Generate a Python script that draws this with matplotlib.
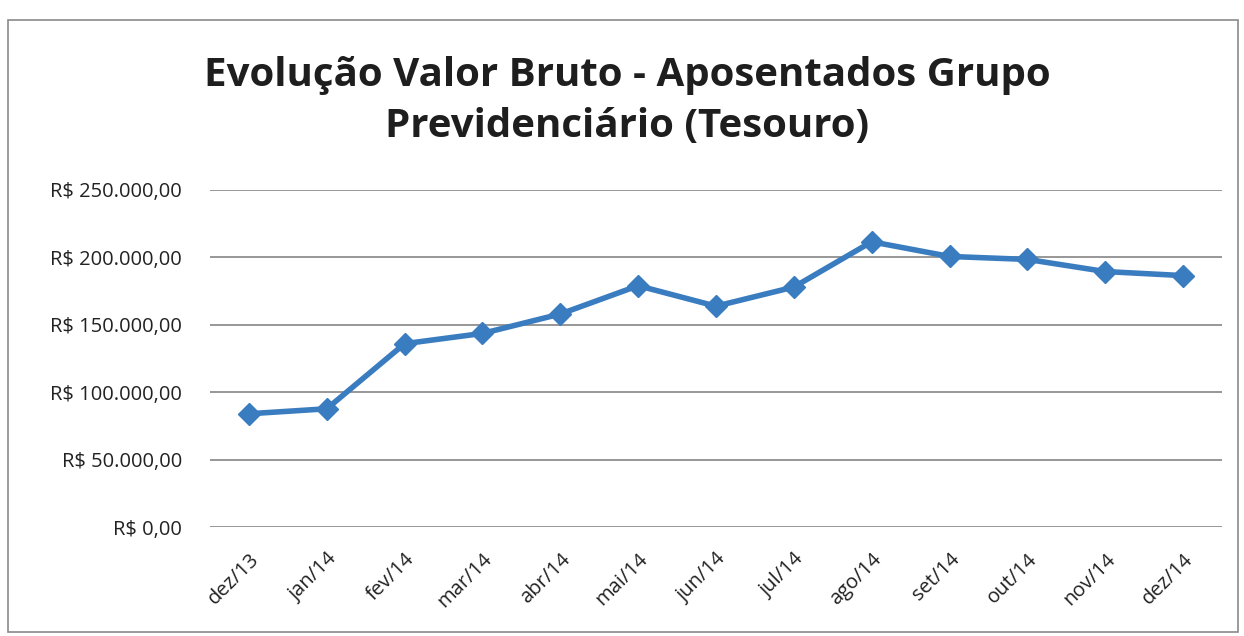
import matplotlib.pyplot as plt
from matplotlib.patches import Rectangle
from matplotlib.ticker import FuncFormatter

months = ['dez/13', 'jan/14', 'fev/14', 'mar/14', 'abr/14', 'mai/14', 'jun/14',
          'jul/14', 'ago/14', 'set/14', 'out/14', 'nov/14', 'dez/14']
valor_bruto = [84000, 87700, 136000, 143600, 158000, 179000, 163800,
               178000, 211600, 200700, 198500, 189500, 186500]
y_ticks = [0, 50000, 100000, 150000, 200000, 250000]

title = 'Evolução Valor Bruto - Aposentados Grupo\nPrevidenciário (Tesouro)'


def brl(v, _pos=None):
    s = f'{v:,.2f}'.replace(',', 'X').replace('.', ',').replace('X', '.')
    return f'R$ {s}'


plt.rcParams['font.family'] = ['Open Sans', 'DejaVu Sans']

fig = plt.figure(figsize=(12.44, 6.36), dpi=100)
fig.patches.append(Rectangle((8 / 1244, 4 / 636), 1230 / 1244, 612 / 636,
                             transform=fig.transFigure, fill=False,
                             edgecolor='#8a8a8a', linewidth=1.2))

ax = fig.add_axes([210 / 1244, 1 - 527 / 636, 1012 / 1244, 337 / 636])
x = list(range(len(months)))
ax.plot(x, valor_bruto, color='#3a7cc0', linewidth=4, marker='D',
        markersize=11, markerfacecolor='#3a7cc0', markeredgecolor='#3a7cc0',
        zorder=3)

ax.set_xlim(-0.5, len(months) - 0.5)
ax.set_ylim(0, 250000)
ax.set_yticks(y_ticks)
ax.yaxis.set_major_formatter(FuncFormatter(brl))
ax.set_xticks(x)
ax.set_xticklabels(months, rotation=45, ha='right', rotation_mode='anchor')
ax.tick_params(axis='both', length=0, labelsize=14.5, colors='#222222')
ax.tick_params(axis='y', pad=20)
ax.tick_params(axis='x', pad=16)
ax.grid(axis='y', color='#858585', linewidth=1.2)
ax.set_axisbelow(True)
for side in ['top', 'right', 'left', 'bottom']:
    ax.spines[side].set_visible(False)

fig.text(627 / 1244, 1 - 101 / 636, title, ha='center', va='center',
         fontsize=29, fontweight='bold', color='#1e1e1e', linespacing=1.4)

fig.savefig('out.png', dpi=100)
